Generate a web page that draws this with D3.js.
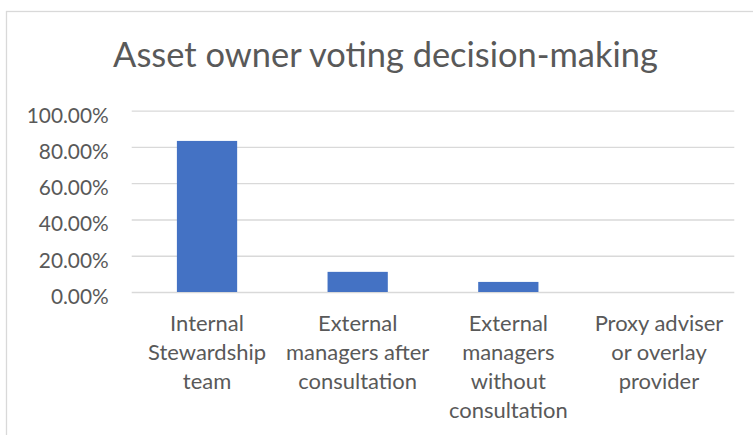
<!DOCTYPE html>
<html>
<head>
<meta charset="utf-8">
<script src="https://cdn.jsdelivr.net/npm/d3@7"></script>
<style>
  html, body { margin: 0; padding: 0; background: #fff; }
  svg { display: block; }
  text { font-family: Lato, "Open Sans", sans-serif; fill: #595959; }
</style>
</head>
<body>
<svg id="chart" width="753" height="435"></svg>
<script>
// Chart data
const title = "Asset owner voting decision-making";
const categories = [
  "Internal\nStewardship\nteam",
  "External\nmanagers after\nconsultation",
  "External\nmanagers\nwithout\nconsultation",
  "Proxy adviser\nor overlay\nprovider"
];
const shares = [0.8333, 0.1111, 0.0556, 0];
const yTicks = [0, 0.2, 0.4, 0.6, 0.8, 1.0];

const svg = d3.select("#chart");
const plot = { left: 131.7, right: 734.3, top: 110.7, bottom: 292 };

// Chart area frame
svg.append("rect")
  .attr("x", 6.5).attr("y", 11.5)
  .attr("width", 760).attr("height", 440)
  .attr("fill", "#fff")
  .attr("stroke", "#d9d9d9").attr("stroke-width", 1.3);

// Fit a text element's font size so its rendered width equals a target width
function fitWidth(sel, target) {
  const node = sel.node();
  const fs = parseFloat(sel.attr("font-size"));
  const w = node.getComputedTextLength();
  sel.attr("font-size", (fs * target / w).toFixed(2));
  return fs * target / w;
}

// Title
const t = svg.append("text")
  .attr("x", 385.5).attr("y", 67)
  .attr("text-anchor", "middle")
  .attr("font-size", 36)
  .text(title);
fitWidth(t, 545);

const x = d3.scaleBand()
  .domain(categories)
  .range([plot.left, plot.right])
  .paddingInner(0.6)
  .paddingOuter(0.3);

const y = d3.scaleLinear()
  .domain([0, 1])
  .range([plot.bottom, plot.top]);

// Size the axis text from probes of reference words
const probe = svg.append("text").attr("font-size", 22).text("100.00%");
const tickFs = fitWidth(probe, 82);
probe.text("Stewardship").attr("font-size", 22);
const catFs = fitWidth(probe, 118);
probe.remove();

// Gridlines and y tick labels
const yAxis = svg.append("g")
  .attr("transform", `translate(${plot.left},0)`)
  .call(d3.axisLeft(y)
    .tickValues(yTicks)
    .tickFormat(d3.format(".2%"))
    .tickSize(-(plot.right - plot.left))
    .tickPadding(23));
yAxis.select(".domain").remove();
yAxis.selectAll(".tick line")
  .attr("stroke", "#d9d9d9")
  .attr("stroke-width", 1.3);
yAxis.selectAll(".tick text")
  .attr("font-family", null)
  .attr("font-size", tickFs)
  .attr("dy", "0.55em")
  .style("fill", "#595959");

// Bars
svg.append("g")
  .selectAll("rect")
  .data(categories.map((c, i) => ({ c, v: shares[i] })))
  .join("rect")
  .attr("x", d => x(d.c))
  .attr("width", x.bandwidth())
  .attr("y", d => y(d.v))
  .attr("height", d => y(0) - y(d.v))
  .attr("fill", "#4472c4");

// Category labels (multi-line)
const xAxis = svg.append("g")
  .attr("transform", `translate(0,${plot.bottom})`)
  .call(d3.axisBottom(x).tickSize(0).tickFormat(""));
xAxis.select(".domain").remove();
xAxis.selectAll(".tick text").remove();
const lineH = 29;
xAxis.selectAll(".tick").each(function(d) {
  const lines = d.split("\n");
  const txt = d3.select(this).append("text")
    .attr("text-anchor", "middle")
    .attr("font-size", catFs)
    .style("fill", "#595959");
  lines.forEach((ln, i) => {
    txt.append("tspan")
      .attr("x", 0)
      .attr("y", 39 + i * lineH)
      .text(ln);
  });
});
</script>
</body>
</html>
